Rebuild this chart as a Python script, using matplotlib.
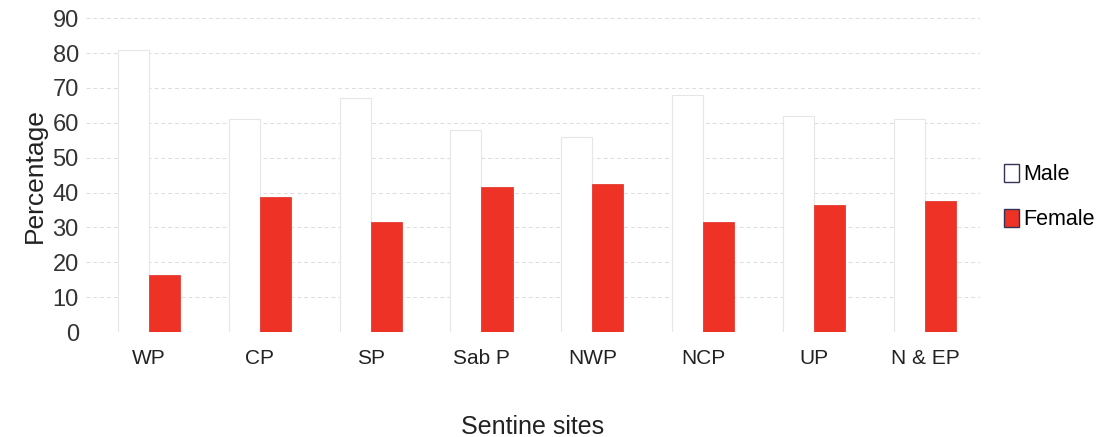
import numpy as np
import matplotlib
matplotlib.use("Agg")
import matplotlib.pyplot as plt

sites = ["WP", "CP", "SP", "Sab P", "NWP", "NCP", "UP", "N & EP"]
male = [81, 61, 67, 58, 56, 68, 62, 61]
female = [16.5, 38.7, 31.5, 41.5, 42.4, 31.5, 36.5, 37.5]
yticks = list(range(0, 100, 10))

plt.rcParams['font.family'] = ['Liberation Sans', 'DejaVu Sans']

fig = plt.figure(figsize=(10.99, 4.37), dpi=100)
ax = fig.add_axes([0.078, 0.240, 0.814, 0.7185])

x = np.arange(len(sites))
w = 0.28
ax.bar(x - w / 2, male, w, color="white", edgecolor="#e6e6e6", linewidth=0.8,
       label="Male", zorder=2)
ax.bar(x + w / 2, female, w, color="#ee3326", edgecolor="#e02a20", linewidth=0.5,
       label="Female", zorder=2)

ax.set_xlim(-0.57, 7.5)
ax.set_ylim(0, 90)
ax.set_yticks(yticks)
ax.set_xticks(x)
ax.set_xticklabels(sites, fontsize=15)
ax.tick_params(axis="y", labelsize=17, length=0, pad=5, labelcolor="#333333")
ax.tick_params(axis="x", length=0, pad=12, labelcolor="#222222")
ax.grid(axis="y", color="#dcdcdc", linestyle=(0, (4, 3)), linewidth=0.7, zorder=0)
for s in ax.spines.values():
    s.set_visible(False)

ax.set_ylabel("Percentage", fontsize=19, labelpad=4, color="#222222")
ax.set_xlabel("Sentine sites", fontsize=18, labelpad=34, color="#222222")

leg = ax.legend(loc="center left", bbox_to_anchor=(1.005, 0.43), frameon=False,
                fontsize=15.5, handlelength=0.7, handleheight=0.9, handletextpad=0.2,
                labelspacing=1.1)
for h in leg.legend_handles:
    h.set_edgecolor("#333355")
    h.set_linewidth(1.0)

fig.savefig("out.png", dpi=100)
